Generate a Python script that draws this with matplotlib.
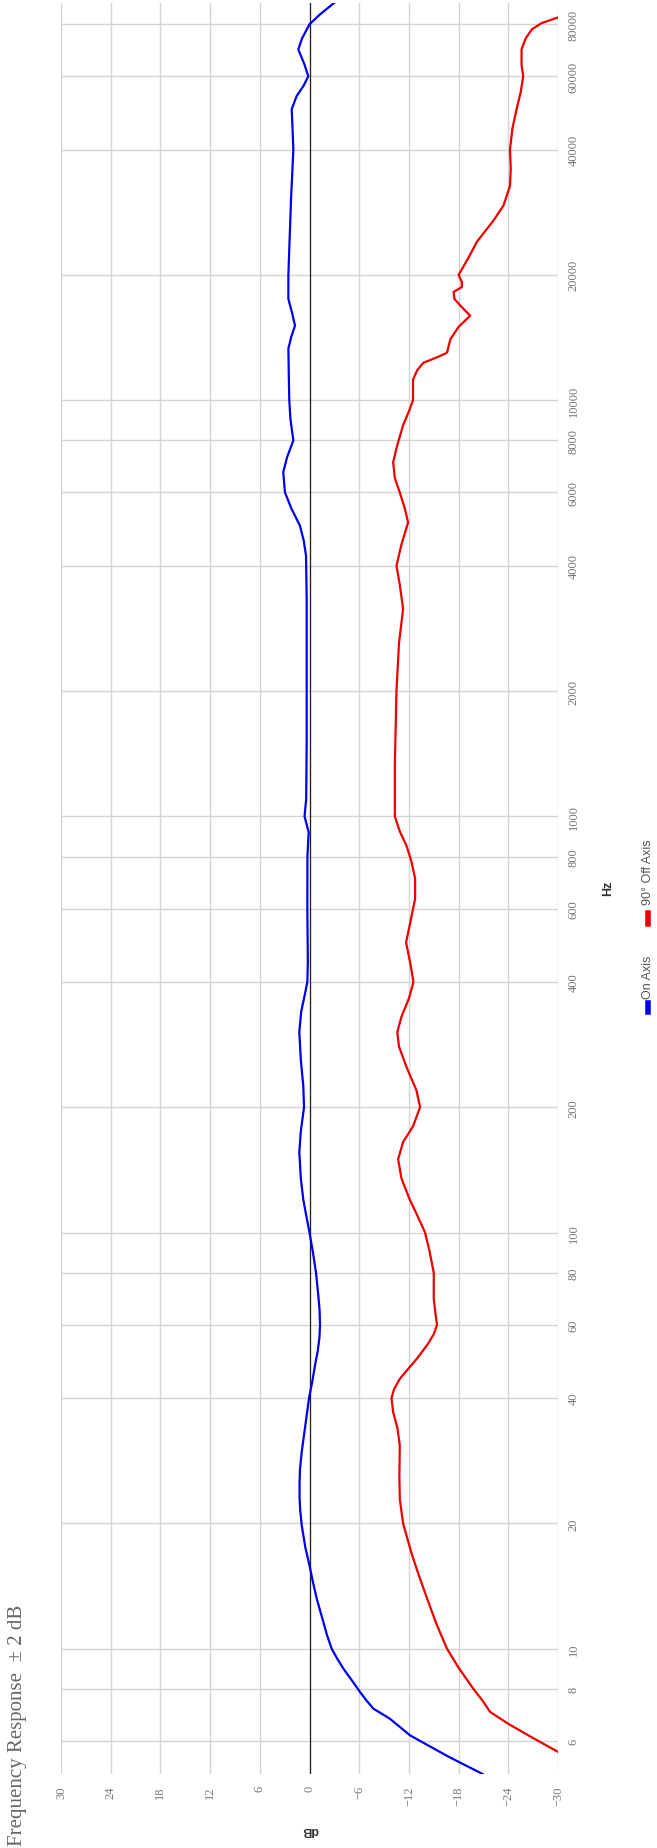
import matplotlib
matplotlib.use("Agg")
import matplotlib.pyplot as plt
from matplotlib.lines import Line2D

# -----------------------------
# Data
# -----------------------------
on_freq = [5.0, 5.5, 6.19, 6.79, 7.18, 7.5, 7.87, 8.4, 8.95, 9.5, 10, 10.8, 11.6, 12.4,
           13.2, 14.5, 15.85, 17.5, 19.8, 21.5, 23, 25, 27, 29.7, 32, 35, 40, 44,
           47.9, 52, 56, 60, 65, 70, 80, 90, 100, 110, 120, 135, 156, 175, 200,
           225, 260, 303, 340, 370, 400, 450, 600, 800, 916, 1000, 1100, 1500,
           3330, 4230, 4600, 4990, 5500, 6000, 6710, 7300, 8000, 9000, 10000,
           11500, 13300, 14200, 15100, 16200, 17500, 20000, 30400, 40000, 45000,
           50000, 53800, 57000, 60000, 64000, 69600, 74000, 80000, 84500, 90000]
on_db = [-20.9, -16.8, -12.15, -9.7, -7.7, -6.9, -6.1, -5.1, -4.1, -3.3, -2.68, -2.1, -1.67, -1.25,
         -0.87, -0.4, 0.0, 0.5, 0.94, 1.12, 1.2, 1.2, 1.15, 0.94, 0.72, 0.45, 0.06, -0.35,
         -0.66, -1.0, -1.2, -1.27, -1.22, -1.08, -0.79, -0.4, 0.0, 0.4, 0.75, 1.05, 1.23, 1.05, 0.66,
         0.75, 1.05, 1.23, 1.0, 0.6, 0.26, 0.2, 0.26, 0.25, 0.1, 0.6, 0.4, 0.34,
         0.34, 0.42, 0.7, 1.15, 2.2, 2.96, 3.17, 2.7, 1.95, 2.3, 2.44,
         2.5, 2.55, 2.2, 1.75, 2.1, 2.55, 2.55, 2.23, 1.95, 2.05,
         2.15, 1.55, 0.7, 0.15, 0.6, 1.35, 0.9, 0.0, -1.27, -2.96]

off_freq = [5.0, 5.65, 6.1, 6.6, 7.05, 7.5, 8, 9, 10, 11.5, 13.2, 15, 17, 20, 22.9, 26,
            30.8, 34, 37, 40, 42, 44.5, 47, 49.7, 54, 57, 60, 64, 69.3, 75, 80, 90,
            100, 110, 120, 135, 150, 165, 180, 200, 220, 250, 280, 303, 330, 365,
            400, 440, 498, 560, 634, 708, 780, 851, 920, 1000, 1325, 2000, 2600,
            3150, 3600, 4000, 4500, 5080, 5500, 6000, 6500, 7100, 7800, 8700, 9400,
            10000, 11200, 11800, 12300, 12700, 13000, 14000, 15000, 15960, 16800,
            17500, 18200, 18700, 19200, 20000, 22000, 24000, 27000, 29300, 32700,
            36000, 40000, 45000, 50000, 55000, 60000, 64000, 69600, 74000, 77800,
            80500, 83100, 90000]
off_db = [-35.0, -30.0, -27.0, -24.0, -21.8, -20.9, -19.8, -18.0, -16.6, -15.3, -14.2, -13.2, -12.3, -11.3, -10.9, -10.85,
          -10.9, -10.6, -10.1, -9.9, -10.2, -10.9, -11.9, -12.95, -14.3, -15.0, -15.4, -15.2, -15.0, -15.0, -15.0, -14.5,
          -13.95, -13.0, -12.1, -11.1, -10.7, -11.3, -12.5, -13.35, -12.9, -11.7, -10.8, -10.6, -11.1, -12.0,
          -12.55, -12.2, -11.66, -12.2, -12.75, -12.75, -12.3, -11.7, -10.9, -10.3, -10.3, -10.5, -10.8,
          -11.3, -10.9, -10.5, -11.1, -11.9, -11.5, -10.9, -10.3, -10.1, -10.6, -11.3, -12.0,
          -12.5, -12.5, -13.0, -13.75, -15.5, -16.6, -17.0, -18.0, -19.4, -18.3,
          -17.5, -17.4, -18.4, -18.4, -18.0, -19.2, -20.2, -22.2, -23.4, -24.2,
          -24.3, -24.2, -24.5, -25.0, -25.5, -25.8, -25.6, -25.6, -26.1, -26.85,
          -28.0, -30.0, -34.0]

db_ticks = [30, 24, 18, 12, 6, 0, -6, -12, -18, -24, -30]
hz_ticks = [6, 8, 10, 20, 40, 60, 80, 100, 200, 400, 600, 800, 1000, 2000,
            4000, 6000, 8000, 10000, 20000, 40000, 60000, 80000]

W, H = 657, 1849

# -----------------------------
# Figure (chart is drawn rotated: dB across, Hz upward)
# -----------------------------
fig = plt.figure(figsize=(W / 100, H / 100), dpi=100)
ax = fig.add_axes([61 / W, 1 - 1775 / H, (558 - 61) / W, (1775 - 4) / H])

ax.set_yscale("log")
ax.set_xlim(30, -30)
ax.set_ylim(5, 90000)

ax.set_xticks(db_ticks)
ax.set_xticklabels([str(t).replace("-", "\u2212") for t in db_ticks])
ax.set_yticks(hz_ticks)
ax.set_yticklabels([str(t) for t in hz_ticks])
ax.yaxis.set_minor_locator(plt.NullLocator())
ax.yaxis.tick_right()

ax.tick_params(axis="x", length=0, pad=8, labelrotation=90, labelsize=9, labelcolor="#777777")
ax.tick_params(axis="y", length=0, pad=7, labelrotation=90, labelsize=9, labelcolor="#777777")
for lab in ax.get_xticklabels() + ax.get_yticklabels():
    lab.set_fontfamily("Liberation Serif")
for lab in ax.get_yticklabels():
    lab.set_verticalalignment("center")

for s in ax.spines.values():
    s.set_visible(False)
ax.grid(True, color="#d4d4d4", linewidth=1.0)
ax.set_axisbelow(True)

ax.axvline(0, color="#222222", linewidth=0.9, zorder=2)

ax.plot(on_db, on_freq, color="#0000ee", linewidth=1.6, zorder=3, solid_joinstyle="round")
ax.plot(off_db, off_freq, color="#ee0000", linewidth=1.6, zorder=3, solid_joinstyle="round")

# -----------------------------
# Titles and labels
# -----------------------------
fig.text(18 / W, 1 - 1846 / H, "Frequency Response  \u00b1 2 dB", rotation=90,
         ha="center", va="bottom", fontsize=15, color="#666666",
         fontfamily="Liberation Serif")
fig.text(310 / W, 1 - 1830 / H, "dB", rotation=180, ha="center", va="center",
         fontsize=9, fontweight="bold", color="#333333", fontfamily="Liberation Sans")
fig.text(608 / W, 1 - 888 / H, "Hz", rotation=90, ha="center", va="center",
         fontsize=9, fontweight="bold", color="#333333", fontfamily="Liberation Sans")

# legend (rotated, drawn by hand)
fig.add_artist(Line2D([648 / W, 648 / W], [1 - 1013 / H, 1 - 1004 / H],
                      color="#0000ee", linewidth=4, transform=fig.transFigure))
fig.text(648 / W, 1 - 999 / H, "On Axis", rotation=90, ha="center", va="bottom",
         fontsize=9, color="#555555", fontfamily="Liberation Sans")
fig.add_artist(Line2D([648 / W, 648 / W], [1 - 925 / H, 1 - 914 / H],
                      color="#ee0000", linewidth=4, transform=fig.transFigure))
fig.text(648 / W, 1 - 905 / H, "90\u00b0 Off Axis", rotation=90, ha="center", va="bottom",
         fontsize=9, color="#555555", fontfamily="Liberation Sans")

plt.savefig("out.png", dpi=100)
plt.close()
